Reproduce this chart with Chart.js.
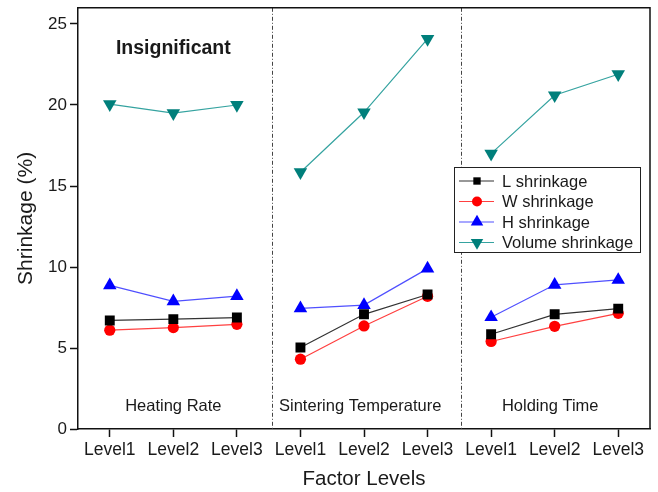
<!DOCTYPE html>
<html>
<head>
<meta charset="utf-8">
<script src="https://cdn.jsdelivr.net/npm/chart.js@4/dist/chart.umd.min.js"></script>
<style>
  html, body { margin: 0; padding: 0; background: #fff; }
  #wrap { width: 658px; height: 492px; }
</style>
</head>
<body>
<div id="wrap"><canvas id="c" width="658" height="492"></canvas></div>
<script>
// Factor levels along the x axis (three factors, three levels each)
const levelLabels = ['Level1', 'Level2', 'Level3', 'Level1', 'Level2', 'Level3', 'Level1', 'Level2', 'Level3'];
const factorNames = ['Heating Rate', 'Sintering Temperature', 'Holding Time'];
const yTicks = [0, 5, 10, 15, 20, 25];

// Shrinkage (%) per level, in the order of levelLabels
const lShrinkage      = [6.70, 6.78, 6.88, 5.03, 7.08, 8.30, 5.85, 7.08, 7.43];
const wShrinkage      = [6.10, 6.26, 6.46, 4.31, 6.36, 8.19, 5.40, 6.34, 7.14];
const hShrinkage      = [8.87, 7.88, 8.20, 7.45, 7.65, 9.90, 6.90, 8.90, 9.20];
const volumeShrinkage = [20.05, 19.50, 20.00, 15.85, 19.55, 24.08, 17.00, 20.60, 21.90];

// Split each series into per-factor segments: a null point between groups breaks the line
function toPoints(values) {
  const pts = [];
  values.forEach((v, i) => {
    if (i > 0 && i % 3 === 0) pts.push({ x: i - 0.5, y: null });
    pts.push({ x: i, y: v });
  });
  return pts;
}

const series = [
  { label: 'L shrinkage', data: lShrinkage, line: '#333333', fill: '#000000', style: 'rect', rot: 0, r: 7, lr: 5.2 },
  { label: 'W shrinkage', data: wShrinkage, line: '#ff4040', fill: '#ff0000', style: 'circle', rot: 0, r: 5.6, lr: 5 },
  { label: 'H shrinkage', data: hShrinkage, line: '#5050ff', fill: '#0000ff', style: 'triangle', rot: 0, r: 7.8, lr: 7.2 },
  { label: 'Volume shrinkage', data: volumeShrinkage, line: '#35a3a0', fill: '#007f7b', style: 'triangle', rot: 180, r: 7.8, lr: 7.2 }
];

const datasets = series.map(s => ({
  label: s.label,
  data: toPoints(s.data),
  borderColor: s.line,
  borderWidth: 1.2,
  backgroundColor: s.fill,
  pointBackgroundColor: s.fill,
  pointBorderColor: s.fill,
  pointBorderWidth: 0,
  pointStyle: s.style,
  pointRotation: s.rot,
  pointRadius: s.r,
  pointHoverRadius: s.r,
  spanGaps: false,
  tension: 0
}));

const FONT = 'Arial, "Liberation Sans", sans-serif';

// Frame, factor separators, annotations and the in-plot legend
const decorations = {
  id: 'decorations',
  afterDatasetsDraw(chart) {
    const { ctx, chartArea: a, scales } = chart;
    const xs = scales.x, ys = scales.y;
    ctx.save();

    // dash-dot separators between factors
    ctx.strokeStyle = '#444';
    ctx.lineWidth = 1;
    ctx.setLineDash([4, 2, 1, 2]);
    [2.55, 5.53].forEach(v => {
      const px = Math.round(xs.getPixelForValue(v)) + 0.5;
      ctx.beginPath();
      ctx.moveTo(px, a.top);
      ctx.lineTo(px, a.bottom);
      ctx.stroke();
    });
    ctx.setLineDash([]);

    // factor names
    ctx.fillStyle = '#1a1a1a';
    ctx.font = '16.5px ' + FONT;
    ctx.textAlign = 'center';
    ctx.textBaseline = 'middle';
    [1.0, 3.94, 6.93].forEach((v, i) => {
      ctx.fillText(factorNames[i], xs.getPixelForValue(v), ys.getPixelForValue(1.42));
    });

    ctx.font = 'bold 19.5px ' + FONT;
    ctx.fillText('Insignificant', xs.getPixelForValue(1.0), ys.getPixelForValue(23.45));

    // legend box
    const lx = 454, ly = 167, lw = 186, lh = 85;
    ctx.fillStyle = '#fff';
    ctx.fillRect(lx, ly, lw, lh);
    ctx.strokeStyle = '#222';
    ctx.lineWidth = 1;
    ctx.strokeRect(lx + 0.5, ly + 0.5, lw, lh);
    ctx.font = '16.5px ' + FONT;
    ctx.textAlign = 'left';
    series.forEach((s, i) => {
      const y = ly + 14 + i * 20.5;
      ctx.strokeStyle = s.line;
      ctx.lineWidth = 1.2;
      ctx.beginPath();
      ctx.moveTo(lx + 5, y);
      ctx.lineTo(lx + 40, y);
      ctx.stroke();
      ctx.fillStyle = s.fill;
      ctx.strokeStyle = s.fill;
      Chart.helpers.drawPoint(ctx, {
        pointStyle: s.style, rotation: s.rot, radius: s.lr, borderWidth: 0
      }, lx + 23, y);
      ctx.fillStyle = '#1a1a1a';
      ctx.fillText(s.label, lx + 48, y + 1);
    });

    // top and right frame lines
    ctx.strokeStyle = '#111';
    ctx.lineWidth = 1.5;
    ctx.beginPath();
    ctx.moveTo(a.left, a.top);
    ctx.lineTo(a.right, a.top);
    ctx.lineTo(a.right, a.bottom);
    ctx.stroke();
    ctx.restore();
  }
};

new Chart(document.getElementById('c'), {
  type: 'line',
  data: { datasets },
  options: {
    responsive: false,
    animation: false,
    events: [],
    layout: { padding: { left: 14, top: 7, right: 8, bottom: 0 } },
    plugins: { legend: { display: false }, tooltip: { enabled: false } },
    scales: {
      x: {
        type: 'linear',
        min: -0.5,
        max: 8.5,
        afterBuildTicks: sc => { sc.ticks = levelLabels.map((_, i) => ({ value: i })); },
        afterFit: sc => { sc.height = 63; sc.paddingLeft = 0; sc.paddingRight = 0; },
        ticks: {
          callback: v => levelLabels[v],
          color: '#1a1a1a',
          font: { family: FONT, size: 17.5 },
          padding: 3,
          maxRotation: 0,
          autoSkip: false
        },
        grid: { drawOnChartArea: false, tickLength: 8, tickColor: '#111', tickWidth: 1.5 },
        border: { display: true, color: '#111', width: 1.5 },
        title: {
          display: true,
          text: 'Factor Levels',
          color: '#1a1a1a',
          font: { family: FONT, size: 20.5 },
          padding: { top: 0, bottom: 0 }
        }
      },
      y: {
        min: 0,
        max: 26,
        afterBuildTicks: sc => { sc.ticks = yTicks.map(v => ({ value: v })); },
        afterFit: sc => { sc.width = 64; sc.paddingTop = 0; sc.paddingBottom = 0; },
        ticks: {
          color: '#1a1a1a',
          font: { family: FONT, size: 17 },
          padding: 3
        },
        grid: { drawOnChartArea: false, tickLength: 8, tickColor: '#111', tickWidth: 1.5 },
        border: { display: true, color: '#111', width: 1.5 },
        title: {
          display: true,
          text: 'Shrinkage (%)',
          color: '#1a1a1a',
          font: { family: FONT, size: 21 },
          padding: { top: 0, bottom: 0 }
        }
      }
    }
  },
  plugins: [decorations]
});
</script>
</body>
</html>
